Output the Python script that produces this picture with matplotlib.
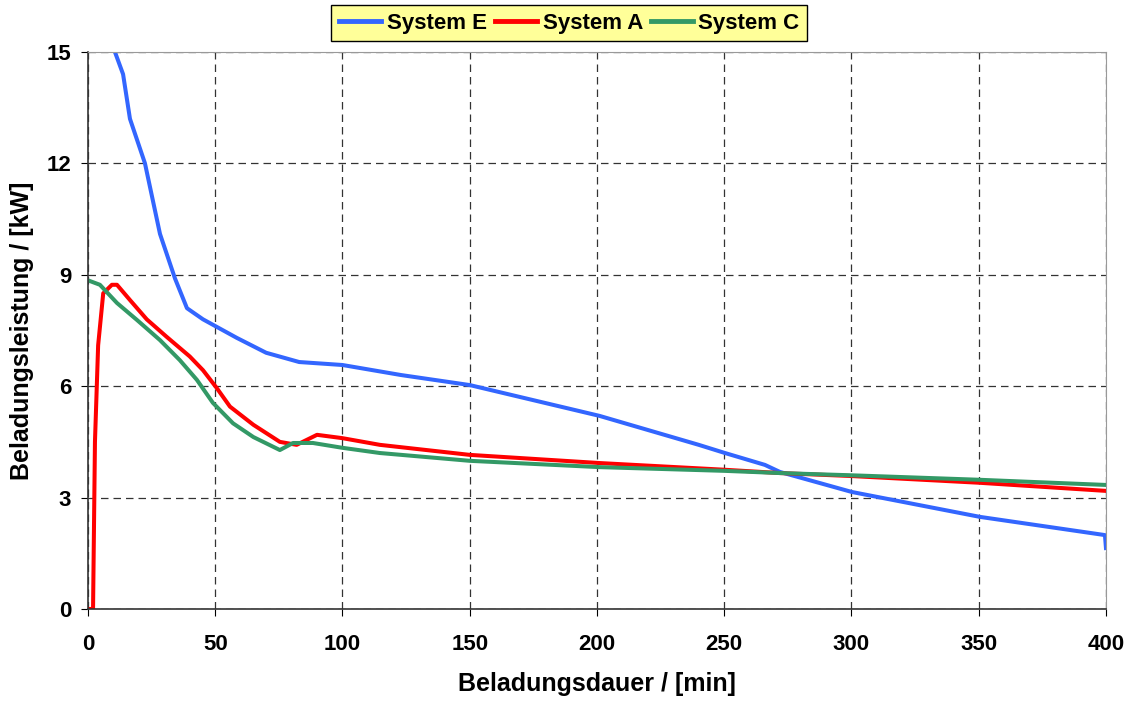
import numpy as np
import matplotlib.pyplot as plt

plt.rcParams['font.family'] = ['Liberation Sans', 'DejaVu Sans']
plt.rcParams['font.weight'] = 'bold'

# System E (blue)
e_t = [10.6, 13.8, 16.5, 22.4, 28.3, 34.2, 38.9, 45.2, 58.5, 70, 83, 100, 123, 150,
       201, 240, 250.3, 266, 271.9, 300.2, 350.5, 399.6, 400]
e_p = [15.0, 14.4, 13.2, 12.0, 10.1, 8.9, 8.1, 7.8, 7.3, 6.9, 6.65, 6.57, 6.3, 6.03,
       5.2, 4.42, 4.2, 3.88, 3.69, 3.15, 2.48, 1.99, 1.64]

# System A (red)
a_t = [0, 2, 2.75, 4, 6, 9.4, 11.4, 16.5, 23.1, 30.9, 40, 45.2, 50.6, 55.8, 65, 75.4,
       82, 90, 100, 114.7, 150, 201, 250, 272, 300, 350, 400]
a_p = [0, 0, 4.5, 7.1, 8.5, 8.73, 8.73, 8.32, 7.8, 7.33, 6.8, 6.43, 5.95, 5.45, 4.96, 4.5,
       4.42, 4.69, 4.6, 4.42, 4.15, 3.93, 3.75, 3.66, 3.58, 3.4, 3.18]

# System C (green)
c_t = [0, 0.8, 4.7, 11.4, 19.3, 28.3, 36.1, 42.8, 49.1, 57, 65, 75.4, 80.6, 88.4, 100,
       114.7, 150, 201, 250, 272, 300, 350, 400]
c_p = [8.85, 8.83, 8.73, 8.24, 7.78, 7.24, 6.7, 6.17, 5.55, 5.0, 4.63, 4.28, 4.47, 4.47,
       4.34, 4.2, 3.99, 3.82, 3.72, 3.66, 3.6, 3.48, 3.34]

fig = plt.figure(figsize=(11.32, 7.02), dpi=100)
ax = fig.add_axes([0.0777, 0.1325, 0.8993, 0.7935])

ax.plot(e_t, e_p, color='#3366FF', lw=2.9, label='System E')
ax.plot(a_t, a_p, color='#FF0000', lw=2.9, label='System A')
ax.plot(c_t, c_p, color='#339966', lw=2.9, label='System C')

ax.set_xlim(0, 400)
ax.set_ylim(0, 15)
ax.set_xticks(np.arange(0, 401, 50))
ax.set_yticks(np.arange(0, 16, 3))
ax.grid(True, ls=(0, (6, 4)), color='#333333', lw=0.9)
ax.tick_params(labelsize=16, length=5, direction='out', colors='black')
ax.tick_params(axis='x', pad=13)
ax.tick_params(axis='y', pad=7)
for lbl in ax.get_xticklabels() + ax.get_yticklabels():
    lbl.set_fontweight('bold')
for s in ['top', 'right']:
    ax.spines[s].set_color('#999999')
for s in ['left', 'bottom']:
    ax.spines[s].set_color('#333333')
    ax.spines[s].set_linewidth(1.2)

ax.set_xlabel('Beladungsdauer / [min]', fontsize=18, fontweight='bold')
ax.set_ylabel('Beladungsleistung / [kW]', fontsize=18, fontweight='bold')
ax.xaxis.set_label_coords(0.5, -0.113)
ax.yaxis.set_label_coords(-0.053, 0.5)

leg = fig.legend(loc='upper center', bbox_to_anchor=(0.503, 0.993), ncol=3,
                 frameon=True, fancybox=False, handlelength=1.9,
                 handletextpad=0.25, columnspacing=0.35, borderpad=0.35,
                 borderaxespad=0.0, prop={'weight': 'bold', 'size': 16})
leg.get_frame().set_facecolor('#FFFF99')
leg.get_frame().set_edgecolor('black')
leg.get_frame().set_alpha(1)
for line in leg.get_lines():
    line.set_linewidth(3.5)

fig.savefig('out.png', dpi=100)
